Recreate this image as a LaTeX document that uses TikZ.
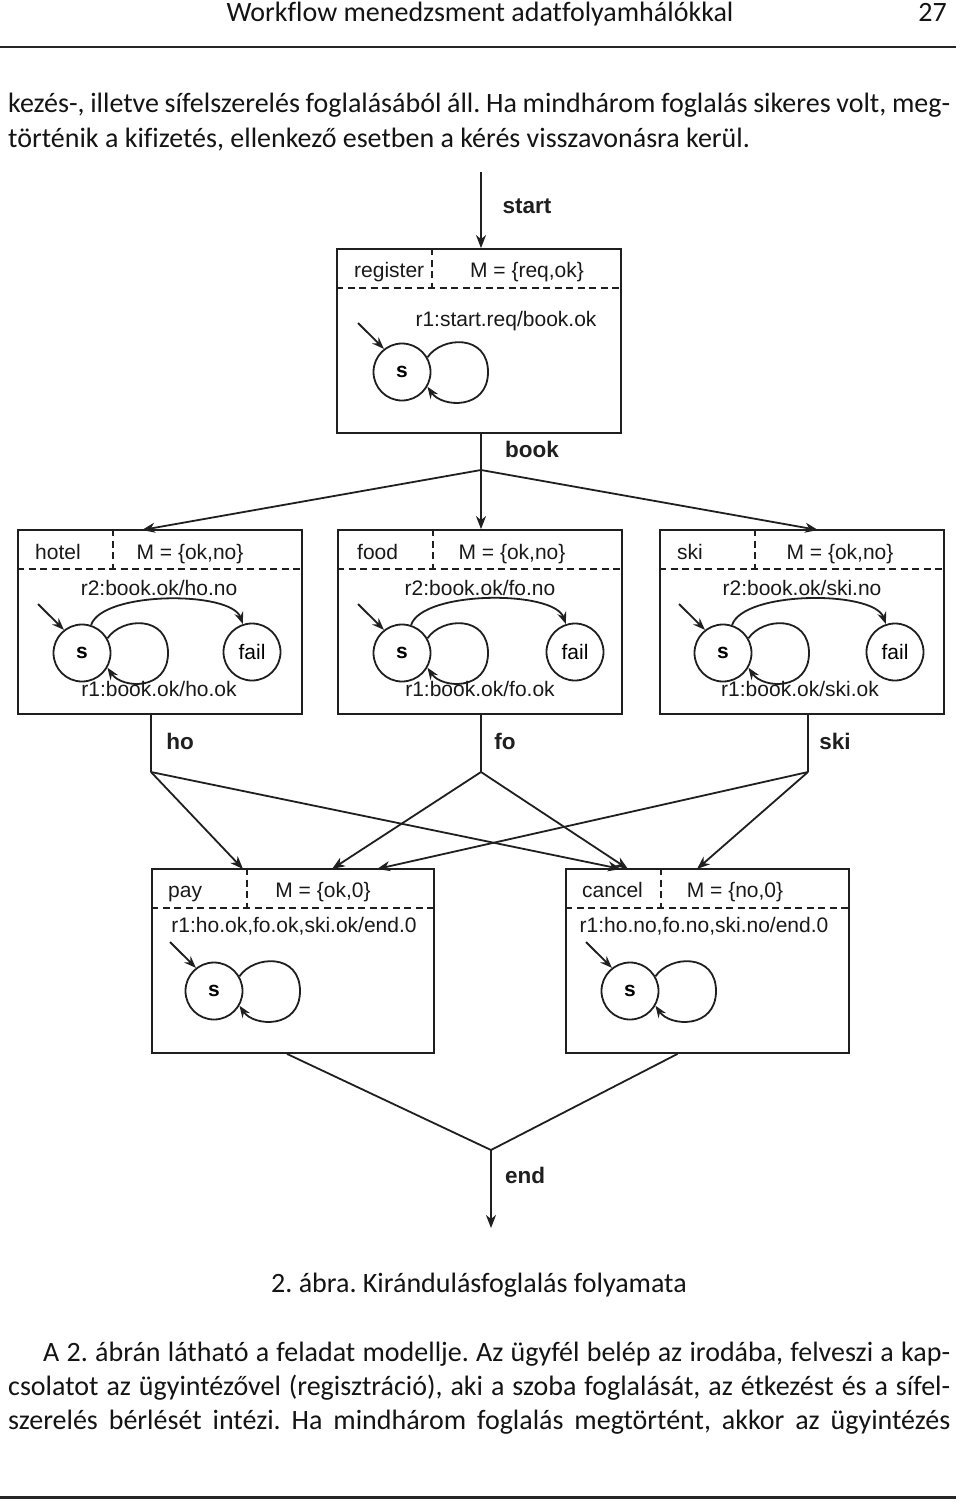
\documentclass[tikz,border=0pt]{standalone}
\usepackage{fontspec}
\setmainfont{Carlito}[Ligatures=NoCommon]
\newfontfamily\diagfont{Liberation Sans}
\usetikzlibrary{arrows.meta,calc}
\frenchspacing
\begin{document}
\begin{tikzpicture}[x=1pt,y=1pt,
  ln/.style={line width=1.8pt, draw=black!88},
  arr/.style={ln, -{Stealth[length=13pt,width=10pt,inset=4pt]}},
  sarr/.style={ln, -{Stealth[length=12pt,width=9pt,inset=4pt]}},
  box/.style={draw=black!88, line width=1.8pt, rectangle, minimum width=284pt, minimum height=184pt, inner sep=0pt},
  hd/.style={draw=black!88, line width=1.8pt, dash pattern=on 7pt off 4.5pt},
  st/.style={circle, draw=black!88, line width=1.8pt, minimum size=57pt, inner sep=0pt, font=\diagfont\fontsize{21}{25}\selectfont},
  lbl/.style={font=\diagfont\fontsize{21}{25}\selectfont, text=black!90, anchor=base, inner sep=0pt},
  lblw/.style={lbl, anchor=base west},
  flow/.style={font=\diagfont\bfseries\fontsize{22.5}{26}\selectfont, text=black!88, anchor=base, inner sep=0pt},
  txt/.style={font=\fontsize{28}{34}\selectfont, text=black!92, anchor=base west, inner sep=0pt},
  txtc/.style={txt, anchor=base}
]
\fill[white] (0,0) rectangle (960,-1502);
\useasboundingbox (0,0) rectangle (960,-1502);

% ---------- page text ----------
\node[txtc] (head) at (480,-21) {Workflow menedzsment adatfolyamhálókkal};
\node[txt, anchor=base east] (pageno) at (947,-21) {27};
\draw[line width=2pt, black!85] (0,-47) -- (956,-47);
\node[txt] (p1) at (8,-112) {\makebox[942pt][s]{kezés-, illetve sífelszerelés foglalásából áll. Ha mindhárom foglalás sikeres volt, meg-}};
\node[txt] (p2) at (8,-147) {történik a kifizetés, ellenkező esetben a kérés visszavonásra kerül.};
\node[txtc] (cap) at (479,-1292) {2. ábra. Kirándulásfoglalás folyamata};
\node[txt] (q1) at (43,-1361) {\makebox[907pt][s]{A 2. ábrán látható a feladat modellje. Az ügyfél belép az irodába, felveszi a kap-}};
\node[txt] (q2) at (8,-1395) {\makebox[942pt][s]{csolatot az ügyintézővel (regisztráció), aki a szoba foglalását, az étkezést és a sífel-}};
\node[txt] (q3) at (8,-1429) {\makebox[942pt][s]{szerelés bérlését intézi. Ha mindhárom foglalás megtörtént, akkor az ügyintézés}};
\draw[line width=3pt, black!85] (0,-1497) -- (956,-1497);

% ---------- boxes ----------
\node[box] (reg)    at (479,-341) {};
\node[box] (hotel)  at (160,-622) {};
\node[box] (food)   at (480,-622) {};
\node[box] (ski)    at (802,-622) {};
\node[box, minimum width=282pt] (pay)    at (293,-961) {};
\node[box, minimum width=283pt] (cancel) at (707.5,-961) {};

\foreach \b in {reg,hotel,food,ski,pay,cancel}{
  \draw[hd] ($(\b.north west)+(0,-40)$) -- ($(\b.north east)+(0,-40)$);
  \draw[hd] ($(\b.north west)+(96,0)$) -- ($(\b.north west)+(96,-40)$);
}

% ---------- header labels ----------
\node[lblw] (regn) at (354,-277) {register};
\node[lbl]  (regm) at (527,-277) {M = \{req,ok\}};
\node[lbl]  (regr) at (506,-326) {r1:start.req/book.ok};

\node[lblw] (hoteln) at (35,-559) {hotel};
\node[lbl]  (hotelm) at (190,-559) {M = \{ok,no\}};
\node[lbl]  (hotelr2) at (159,-595) {r2:book.ok/ho.no};

\node[lblw] (foodn) at (357,-559) {food};
\node[lbl]  (foodm) at (512,-559) {M = \{ok,no\}};
\node[lbl]  (foodr2) at (480,-595) {r2:book.ok/fo.no};

\node[lblw] (skin) at (677,-559) {ski};
\node[lbl]  (skim) at (840,-559) {M = \{ok,no\}};
\node[lbl]  (skir2) at (802,-595) {r2:book.ok/ski.no};

\node[lblw] (payn) at (168,-897) {pay};
\node[lbl]  (paym) at (323,-897) {M = \{ok,0\}};
\node[lbl]  (payr) at (294,-932) {r1:ho.ok,fo.ok,ski.ok/end.0};

\node[lblw] (canceln) at (582,-897) {cancel};
\node[lbl]  (cancelm) at (735,-897) {M = \{no,0\}};
\node[lbl]  (cancelr) at (704,-932) {r1:ho.no,fo.no,ski.no/end.0};

% ---------- states ----------
\node[st] (s0) at (402,-372) {\bfseries s};
\node[st] (s1) at (82,-653) {\bfseries s};
\node[st] (f1) at (252,-652) {fail};
\node[st] (s2) at (402,-653) {\bfseries s};
\node[st] (f2) at (575,-652) {fail};
\node[st] (s3) at (723,-653) {\bfseries s};
\node[st] (f3) at (895,-652) {fail};
\node[st] (s4) at (214,-991) {\bfseries s};
\node[st] (s5) at (630,-991) {\bfseries s};

\foreach \s in {s0,s1,s2,s3,s4,s5}{
  \coordinate (\s i) at ($(\s.center)+(-44,49)$);
  \draw[sarr] (\s i) -- (\s.128);
  \draw[sarr] (\s.30) .. controls ($(\s.center)+(40,36)$) and ($(\s.center)+(86,38)$) .. ($(\s.center)+(86,0)$)
     .. controls ($(\s.center)+(86,-38)$) and ($(\s.center)+(40,-36)$) .. (\s.-30);
}
\draw[sarr] (s1.72) to[out=72,in=110,looseness=0.6] (f1.108);
\draw[sarr] (s2.72) to[out=72,in=110,looseness=0.6] (f2.108);
\draw[sarr] (s3.72) to[out=72,in=110,looseness=0.6] (f3.108);

\node[lbl] (hotelr1) at (159,-696) {r1:book.ok/ho.ok};
\node[lbl] (foodr1) at (480,-696) {r1:book.ok/fo.ok};
\node[lbl] (skir1) at (800,-696) {r1:book.ok/ski.ok};

% ---------- flow connectors ----------
\coordinate (st0) at (481,-172);
\draw[arr] (st0) -- (st0 |- reg.north);
\node[flow] (lstart) at (527,-213) {start};

\coordinate (bj) at (481,-470);
\draw[ln] (bj |- reg.south) -- (bj);
\node[flow] (lbook) at (532,-457) {book};
\coordinate (hin) at (142,-530);
\coordinate (sin) at (818,-530);
\draw[arr] (bj) -- (hin);
\draw[arr] (bj) -- (bj |- food.north);
\draw[arr] (bj) -- (sin);

\coordinate (hoj) at (151,-772);
\coordinate (foj) at (481,-772);
\coordinate (skj) at (808,-772);
\draw[ln] (hoj |- hotel.south) -- (hoj);
\draw[ln] (foj |- food.south) -- (foj);
\draw[ln] (skj |- ski.south) -- (skj);
\node[flow] (lho) at (180,-749) {ho};
\node[flow] (lfo) at (505,-749) {fo};
\node[flow] (lski) at (835,-749) {ski};

\coordinate (p1in) at (243,-869);
\coordinate (p2in) at (332,-869);
\coordinate (p3in) at (377,-869);
\coordinate (c1in) at (621,-869);
\coordinate (c2in) at (628,-869);
\coordinate (c3in) at (697,-869);
\draw[arr] (hoj) -- (p1in);
\draw[arr] (hoj) -- (c1in);
\draw[arr] (foj) -- (p2in);
\draw[arr] (foj) -- (c2in);
\draw[arr] (skj) -- (p3in);
\draw[arr] (skj) -- (c3in);

\coordinate (ej) at (491,-1150);
\coordinate (eend) at (491,-1228);
\draw[ln] ($(pay.south)+(-6,0)$) -- (ej) -- ($(cancel.south)+(-30,0)$);
\draw[arr] (ej) -- (eend);
\node[flow] (lend) at (525,-1183) {end};
\end{tikzpicture}
\end{document}
